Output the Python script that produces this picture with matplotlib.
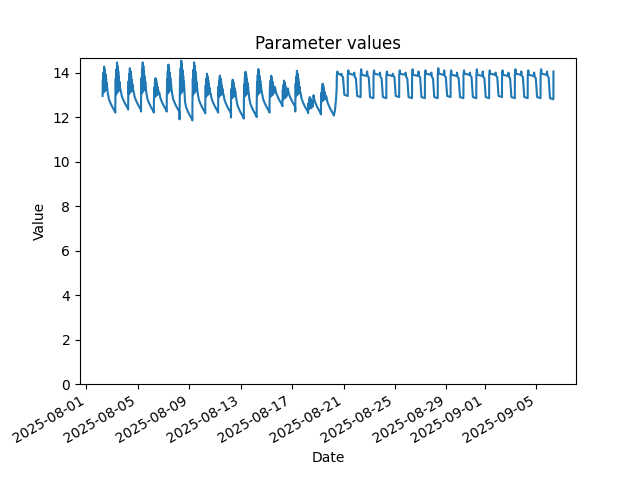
import numpy as np
import matplotlib
matplotlib.use("Agg")
import matplotlib.pyplot as plt

# ---- Phase 1: daily spikes (Aug 2 - Aug 19) ----
spike_days = ['2025-08-02', '2025-08-03', '2025-08-04', '2025-08-05', '2025-08-06',
              '2025-08-07', '2025-08-08', '2025-08-09', '2025-08-10', '2025-08-11',
              '2025-08-12', '2025-08-13', '2025-08-14', '2025-08-15', '2025-08-16',
              '2025-08-17', '2025-08-18', '2025-08-19']
spike_base = [12.95, 12.85, 12.9, 12.9, 12.8, 12.9, 12.85, 12.85, 12.8, 12.8,
              12.75, 12.8, 12.85, 12.8, 12.7, 12.8, 12.3, 12.6]
spike_peak = [14.27, 14.46, 14.2, 14.46, 13.75, 14.36, 14.54, 14.46, 13.95, 13.86,
              13.68, 14.04, 14.16, 13.86, 13.64, 14.08, 12.9, 13.5]
spike_low = [12.2, 12.34, 12.3, 12.2, 12.25, 12.2, 11.85, 12.17, 12.2, 12.15,
             11.93, 12.0, 12.2, 12.5, 12.44, 12.2, 12.13, 12.07]

# within-day shape of the noisy daytime band (hour, fraction base->peak)
band_hours = [6.0, 6.6, 7.2, 7.8, 8.4, 9.0, 9.6, 10.2, 10.8, 11.4, 12.0, 12.6, 13.2, 13.8, 14.5]
band_frac = [0.0, 0.55, 0.1, 0.8, 0.2, 1.0, 0.15, 0.9, 0.3, 0.75, 0.2, 0.6, 0.25, 0.45, 0.3]
# evening/night decay (hour, offset above next-morning low)
tail_hours = [16.0, 18.0, 21.0, 24.0, 28.0, 29.9]
tail_off = [0.85, 0.6, 0.42, 0.27, 0.1, 0.0]

# ---- Phase 2: square-wave cycles (Aug 20 - Sep 6) ----
sq_days = ['2025-08-20', '2025-08-21', '2025-08-22', '2025-08-23', '2025-08-24',
           '2025-08-25', '2025-08-26', '2025-08-27', '2025-08-28', '2025-08-29',
           '2025-08-30', '2025-08-31', '2025-09-01', '2025-09-02', '2025-09-03',
           '2025-09-04', '2025-09-05']
sq_peak = [14.05, 14.1, 14.15, 14.1, 14.05, 14.1, 14.15, 14.1, 14.2, 14.1,
           14.1, 14.15, 14.1, 14.1, 14.15, 14.1, 14.15]
sq_top = [13.95, 13.95, 13.9, 13.95, 13.9, 13.95, 13.9, 13.95, 13.95, 13.9,
          13.95, 13.9, 13.95, 13.9, 13.95, 13.9, 13.95]
sq_end = [13.85, 13.8, 13.85, 13.8, 13.85, 13.8, 13.85, 13.8, 13.85, 13.8,
          13.85, 13.8, 13.85, 13.8, 13.85, 13.8, 13.85]
sq_bottom = [12.95, 12.9, 12.85, 12.85, 12.9, 12.85, 12.85, 12.85, 12.9, 12.85,
             12.85, 12.85, 12.9, 12.85, 12.85, 12.85, 12.8]
final_rise_day = '2025-09-06'
final_rise_value = 14.05

times = []
values = []

def add(day, hour, val):
    t = np.datetime64(day + 'T00:00') + np.timedelta64(int(round(hour * 60)), 'm')
    times.append(t)
    values.append(val)

for i, (d, b, p, lo) in enumerate(zip(spike_days, spike_base, spike_peak, spike_low)):
    if i > 0:
        add(d, band_hours[0] - 0.2, lo + 0.05)
    for h, f in zip(band_hours, band_frac):
        add(d, h, b + f * (p - b))
    for h, o in zip(tail_hours, tail_off):
        add(d, h, lo + o)

# transition on Aug 20 morning
add('2025-08-20', 8.0, 12.3)
add('2025-08-20', 10.0, 12.8)
add('2025-08-20', 11.2, 13.3)

for i, d in enumerate(sq_days):
    rise = 11.5 if i == 0 else 8.0
    add(d, rise, 13.9)
    add(d, rise + 1.0, sq_peak[i])
    add(d, rise + 2.0, sq_top[i])
    add(d, 19.0, sq_top[i] - 0.05)
    add(d, 20.0, sq_peak[i] - 0.1)
    add(d, 21.0, sq_end[i])
    add(d, 23.0, sq_end[i] - 0.05)
    add(d, 25.5, sq_bottom[i] + 0.05)
    add(d, 31.9, sq_bottom[i])
add(final_rise_day, 8.0, final_rise_value)

times = np.array(times, dtype='datetime64[m]')
values = np.array(values)

fig, ax = plt.subplots(figsize=(6.4, 4.8), dpi=100)
ax.plot(times, values, color='#1f77b4')
ax.set_ylim(bottom=0)
ax.set_title('Parameter values')
ax.set_xlabel('Date')
ax.set_ylabel('Value')
fig.autofmt_xdate()
fig.savefig('out.png')
